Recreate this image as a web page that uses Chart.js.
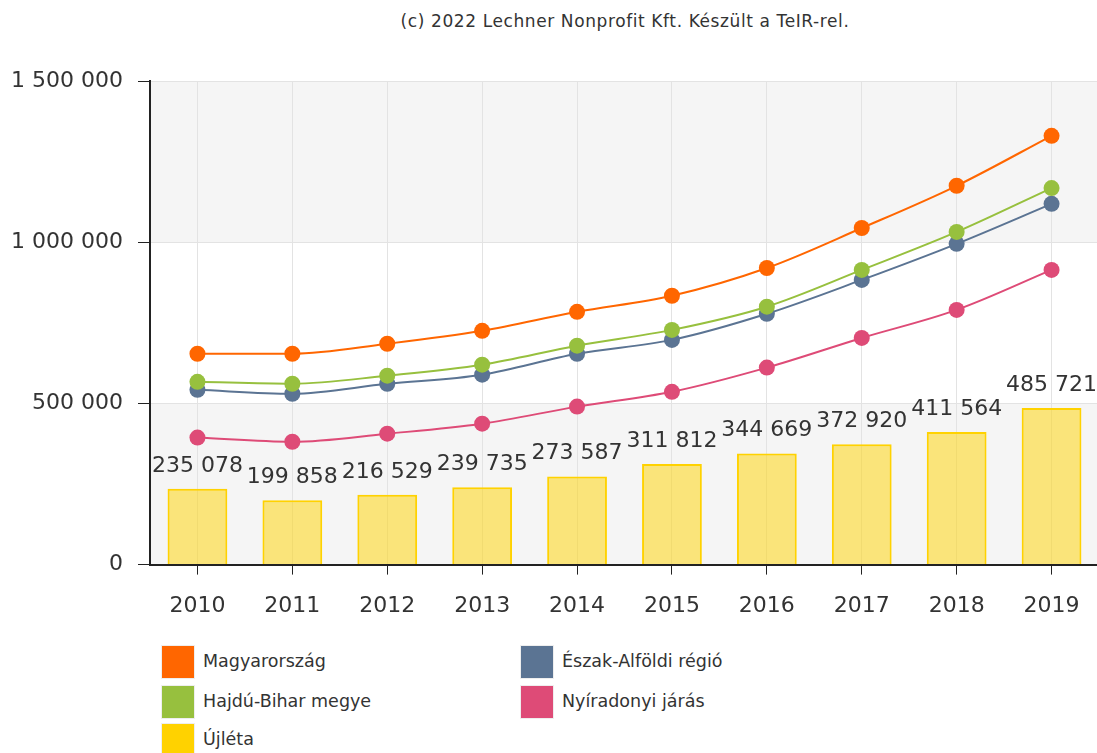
<!DOCTYPE html>
<html>
<head>
<meta charset="utf-8">
<script src="https://cdn.jsdelivr.net/npm/chart.js@4.4.0/dist/chart.umd.min.js"></script>
<style>
    html, body { margin: 0; padding: 0; background: #fff; overflow: hidden; }
    body { width: 1097px; height: 753px; position: relative; font-family: "DejaVu Sans", Verdana, sans-serif; }
    #credit {
        position: absolute; top: 11px; left: 0; width: 1250px; text-align: center;
        font: 17px "DejaVu Sans", sans-serif; letter-spacing: 0.6px; color: #333;
    }
    #wrap { position: absolute; left: 0; top: 0; width: 1107px; height: 637px; }
    #legend { position: absolute; left: 161px; top: 645px; width: 720px; }
    .item { position: absolute; height: 34px; font-size: 17.5px; color: #333; }
    .item span.box { position: absolute; left: 0; top: 0; width: 32px; height: 32px; border: 1px solid #eee; }
    .item span.txt { position: absolute; left: 42px; top: 6px; white-space: nowrap; }
</style>
</head>
<body>
<div id="credit">(c) 2022 Lechner Nonprofit Kft. Készült a TeIR-rel.</div>
<div id="wrap"><canvas id="chart" width="1107" height="637"></canvas></div>
<div id="legend"></div>
<script>
// chart data
const years = ["2010", "2011", "2012", "2013", "2014", "2015", "2016", "2017", "2018", "2019"];
const magyarorszag = [654000, 654000, 685000, 725000, 784000, 834000, 920000, 1044000, 1175000, 1330000];
const hajduBihar = [567000, 561000, 586000, 620000, 679000, 728000, 800000, 914000, 1032000, 1168000];
const eszakAlfoldi = [542000, 530000, 561000, 589000, 654000, 697000, 778000, 883000, 995000, 1119000];
const nyiradonyi = [394000, 381000, 406000, 437000, 490000, 536000, 611000, 703000, 790000, 914000];
const ujleta = [235078, 199858, 216529, 239735, 273587, 311812, 344669, 372920, 411564, 485721];
const yTicks = [0, 500000, 1000000, 1500000];

function formatNumber(v) {
    return String(v).replace(/\B(?=(\d{3})+(?!\d))/g, " ");
}

// alternating background bands
const bandPlugin = {
    id: "bands",
    beforeDraw(chart) {
        const ctx = chart.ctx;
        const area = chart.chartArea;
        const y = chart.scales.y;
        for (let i = 0; i < yTicks.length - 1; i++) {
            if (i % 2 === 1) continue;
            const top = y.getPixelForValue(yTicks[i + 1]);
            const bottom = y.getPixelForValue(yTicks[i]);
            ctx.save();
            ctx.fillStyle = "#f5f5f5";
            ctx.fillRect(area.left, top, area.right - area.left, bottom - top);
            ctx.restore();
        }
    }
};

// value labels above bars
const barLabelPlugin = {
    id: "barLabels",
    afterDatasetsDraw(chart) {
        const ctx = chart.ctx;
        chart.data.datasets.forEach((ds, i) => {
            if (ds.type !== "bar") return;
            const meta = chart.getDatasetMeta(i);
            meta.data.forEach((bar, j) => {
                ctx.save();
                ctx.font = "22px 'DejaVu Sans'";
                ctx.fillStyle = "#333";
                ctx.textAlign = "center";
                ctx.textBaseline = "alphabetic";
                ctx.fillText(formatNumber(ds.data[j]), bar.x, bar.y - 17);
                ctx.restore();
            });
        });
    }
};

const lineStyle = (label, data, color) => ({
    type: "line",
    label: label,
    data: data,
    borderColor: color,
    backgroundColor: color,
    borderWidth: 2,
    pointRadius: 8,
    pointBorderWidth: 0,
    pointBackgroundColor: color,
    cubicInterpolationMode: "monotone",
    fill: false,
    order: 1
});

const datasets = [
    lineStyle("Magyarország", magyarorszag, "#ff6600"),
    lineStyle("Hajdú-Bihar megye", hajduBihar, "#97c03e"),
    lineStyle("Észak-Alföldi régió", eszakAlfoldi, "#5b7493"),
    lineStyle("Nyíradonyi járás", nyiradonyi, "#de4b77"),
    {
        type: "bar",
        label: "Újléta",
        data: ujleta,
        backgroundColor: "rgba(255, 212, 0, 0.5)",
        borderColor: "#ffd200",
        borderWidth: 2,
        barPercentage: 0.63,
        categoryPercentage: 1,
        order: 2
    }
];

const ctx = document.getElementById("chart").getContext("2d");
const chart = new Chart(ctx, {
    data: { labels: years, datasets: datasets },
    plugins: [bandPlugin, barLabelPlugin],
    options: {
        responsive: false,
        animation: false,
        layout: { padding: { top: 81, left: 0, right: 0, bottom: 0 } },
        plugins: { legend: { display: false }, tooltip: { enabled: false }, title: { display: false } },
        scales: {
            x: {
                offset: true,
                grid: { offset: false, color: "#e3e3e3", tickColor: "#222", tickLength: 10, drawTicks: true },
                border: { color: "#222", width: 2 },
                ticks: { font: { size: 22, family: "'DejaVu Sans'" }, color: "#333", padding: 18, maxRotation: 0 }
            },
            y: {
                min: 0,
                max: 1500000,
                afterBuildTicks(scale) { scale.ticks = yTicks.map(v => ({ value: v })); },
                afterFit(scale) { scale.width = 150; },
                grid: { color: "#e3e3e3", tickColor: "#222", tickLength: 12, drawTicks: true },
                border: { color: "#222", width: 2 },
                ticks: {
                    font: { size: 22, family: "'DejaVu Sans'" },
                    color: "#333",
                    padding: 15,
                    callback: v => formatNumber(v)
                }
            }
        }
    }
});

// two-column legend like the source
const legendItems = [
    { label: "Magyarország", color: "#ff6600", x: 0, y: 0 },
    { label: "Észak-Alföldi régió", color: "#5b7493", x: 359, y: 0 },
    { label: "Hajdú-Bihar megye", color: "#97c03e", x: 0, y: 40 },
    { label: "Nyíradonyi járás", color: "#de4b77", x: 359, y: 40 },
    { label: "Újléta", color: "#ffd200", x: 0, y: 78 }
];
const legend = document.getElementById("legend");
legendItems.forEach(it => {
    const el = document.createElement("div");
    el.className = "item";
    el.style.left = it.x + "px";
    el.style.top = it.y + "px";
    el.innerHTML = '<span class="box" style="background:' + it.color + '"></span><span class="txt">' + it.label + '</span>';
    legend.appendChild(el);
});
</script>
</body>
</html>
